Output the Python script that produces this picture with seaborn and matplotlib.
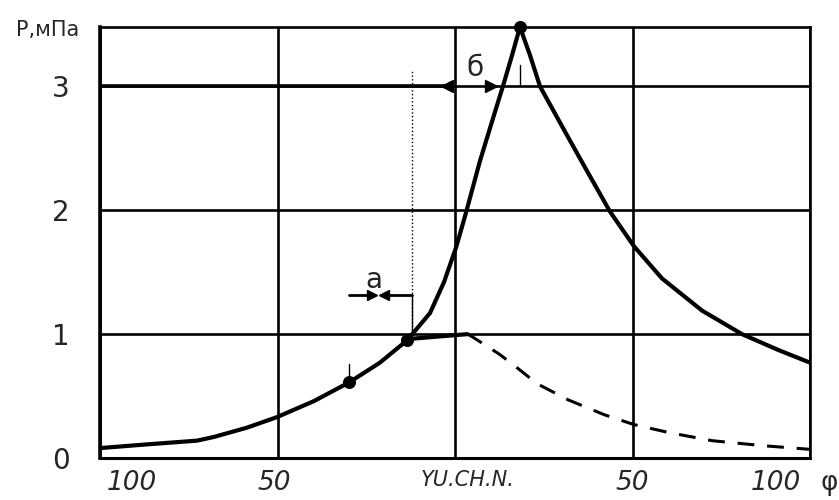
import matplotlib
matplotlib.use("Agg")
import matplotlib.pyplot as plt
import numpy as np
import pandas as pd
import seaborn as sns

# ---- data ----
main_x = [-2.0, -1.735, -1.454, -1.358, -1.172, -1.003, -0.794, -0.597, -0.423,
          -0.27, -0.141, -0.062, 0.006, 0.056, 0.141, 0.22, 0.276, 0.321, 0.366,
          0.423, 0.479, 0.614, 0.727, 0.873, 1.008, 1.166, 1.392, 1.617, 1.825, 2.0]
main_p = [0.08, 0.11, 0.14, 0.17, 0.245, 0.33, 0.46, 0.61, 0.77,
          0.95, 1.17, 1.42, 1.70, 1.95, 2.40, 2.77, 3.03, 3.25, 3.48,
          3.25, 3.00, 2.65, 2.36, 1.99, 1.71, 1.45, 1.19, 1.0, 0.87, 0.77]
plateau_x = [-0.27, 0.07]
plateau_p = [0.96, 1.0]
dash_x = [0.07, 0.096, 0.248, 0.327, 0.462, 0.637, 0.84, 1.008, 1.206, 1.448, 1.73, 2.0]
dash_p = [1.0, 0.98, 0.84, 0.755, 0.60, 0.47, 0.35, 0.27, 0.205, 0.14, 0.10, 0.07]
dot_x = [-0.597, -0.27, 0.366]
dot_p = [0.61, 0.95, 3.48]

grid_x = [-2, -1, 0, 1, 2]
x_labels = ["100", "50", "YU.CH.N.", "50", "100"]
y_ticks = [0, 1, 2, 3]
y_labels = ["0", "1", "2", "3"]
y_title = "Р,мПа"
x_title = "φ"

# dimension marks
dim_a_left = [-0.597, -0.47]
dim_a_right = [-0.40, -0.242]
dim_a_level = 1.315
dim_b_level = 3.0
dim_b_arrows = [-0.045, 0.20]

# ---- layout ----
sns.set_theme(style="white")
plt.rcParams['font.family'] = ['DejaVu Sans']
fig = plt.figure(figsize=(8.39, 5.0), dpi=100)
ax = fig.add_axes([100/839, 42/500, 710/839, 431/500])

df_main = pd.DataFrame({"x": main_x, "p": main_p})
df_plat = pd.DataFrame({"x": plateau_x, "p": plateau_p})
df_dash = pd.DataFrame({"x": dash_x, "p": dash_p})

# grid
for gx in grid_x:
    ax.axvline(gx, color="black", lw=1.9, zorder=1)
for gy in y_ticks[1:]:
    ax.axhline(gy, color="black", lw=1.9, zorder=1)

sns.lineplot(data=df_main, x="x", y="p", ax=ax, color="black", lw=3.0,
             sort=False, estimator=None, zorder=3)
sns.lineplot(data=df_plat, x="x", y="p", ax=ax, color="black", lw=3.0,
             sort=False, estimator=None, zorder=3)
sns.lineplot(data=df_dash, x="x", y="p", ax=ax, color="black", lw=2.2,
             sort=False, estimator=None, zorder=3)
ax.lines[-1].set_dashes([5.5, 4.2])
for ln in ax.lines[-3:]:
    ln.set_solid_joinstyle("round")
    ln.set_solid_capstyle("round")
ax.scatter(dot_x, dot_p, s=70, color="black", zorder=5, clip_on=False)

# annotations
ax.plot([-0.242, -0.242], [1.0, 3.13], color="black", lw=1.0, ls=":", zorder=2)
ax.plot([-0.242, -0.242], [1.0, dim_a_level], color="black", lw=1.0, zorder=2)
ax.plot([0.366, 0.366], [3.0, 3.17], color="black", lw=1.0, zorder=2)
ax.plot([-0.597, -0.597], [0.63, 0.76], color="black", lw=1.0, zorder=2)
ax.plot(dim_a_left, [dim_a_level]*2, color="black", lw=2.0)
ax.plot(dim_a_right, [dim_a_level]*2, color="black", lw=2.0)
ax.plot([dim_a_left[1]], [dim_a_level], marker=">", ms=7, color="black")
ax.plot([dim_a_right[0]], [dim_a_level], marker="<", ms=7, color="black")
ax.plot([dim_b_arrows[0]], [dim_b_level], marker="<", ms=8, color="black")
ax.plot([dim_b_arrows[1]], [dim_b_level], marker=">", ms=8, color="black")
ax.plot([-2, dim_b_arrows[0]], [dim_b_level]*2, color="black", lw=2.6, zorder=2)
ax.text(0.11, 3.15, "б", fontsize=20, ha="center", va="center")
ax.text(-0.456, 1.435, "а", fontsize=20, ha="center", va="center")

ax.set_xlim(-2, 2)
ax.set_ylim(0, 3.48)
ax.set_xticks(grid_x)
ax.set_xticklabels([])
ax.set_yticks(y_ticks)
ax.set_yticklabels(y_labels, fontsize=20)
ax.tick_params(axis="both", length=0)
ax.tick_params(axis="y", pad=22)
for s in ax.spines.values():
    s.set_color("black")
    s.set_linewidth(1.9)
ax.spines["left"].set_linewidth(2.6)
ax.spines["bottom"].set_linewidth(2.2)
ax.set_xlabel("")
ax.set_ylabel("")

label_offsets = [0.18, -0.02, 0.07, 0.0, -0.19]
for gx, lab, off in zip(grid_x, x_labels, label_offsets):
    fs = 15 if lab.startswith("YU") else 19
    ax.text(gx + off, -0.1, lab, fontsize=fs, style="italic",
            ha="center", va="top", transform=ax.transData, clip_on=False)
ax.text(2.11, -0.1, x_title, fontsize=19, ha="center", va="top", clip_on=False)
fig.text(48/839, 1 - 30/500, y_title, fontsize=15, ha="center", va="center")

fig.savefig("out.png", dpi=100)
